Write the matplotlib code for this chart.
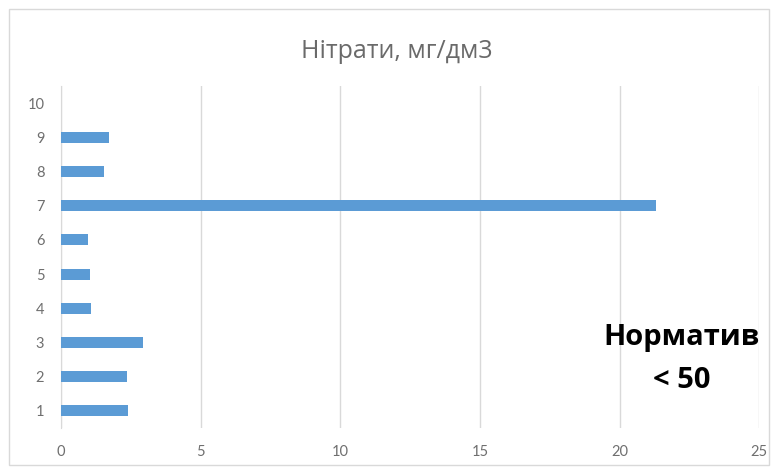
import matplotlib.pyplot as plt
from matplotlib.patches import Rectangle

categories = [1, 2, 3, 4, 5, 6, 7, 8, 9, 10]
nitrates = [2.41, 2.37, 2.93, 1.08, 1.05, 0.98, 21.3, 1.55, 1.72, 0]
x_ticks = [0, 5, 10, 15, 20, 25]

fig = plt.figure(figsize=(7.74, 4.72), dpi=100)
ax = fig.add_axes([0.0788, 0.0932, 0.902, 0.7246])

ax.barh(categories, nitrates, height=0.32, color="#5b9bd5", zorder=3)

ax.set_xlim(0, 25)
ax.set_ylim(0.5, 10.5)
ax.set_xticks(x_ticks)
ax.set_yticks(categories)
ax.grid(axis="x", color="#d9d9d9", linewidth=1, zorder=0)
for side in ["top", "right", "bottom"]:
    ax.spines[side].set_visible(False)
ax.spines["left"].set_color("#d9d9d9")
ax.tick_params(length=0, labelcolor="#6f6f6f", labelsize=10.5, pad=12)
for lab in ax.get_xticklabels() + ax.get_yticklabels():
    lab.set_family("Lato")

fig.text(0.513, 0.89, "Нітрати, мг/дм3", ha="center", va="center",
         fontsize=18, color="#6a6a6a", family="Open Sans")

# norm annotation, two centred lines
norm_kw = dict(ha="center", va="center", fontsize=21, fontweight="bold",
               family="Open Sans", color="black")
fig.text(0.881, 0.284, "Норматив", **norm_kw)
fig.text(0.881, 0.193, "< 50", **norm_kw)

# light frame around the whole chart area
fig.patches.append(Rectangle((0.011, 0.015), 0.982, 0.965, transform=fig.transFigure,
                             fill=False, edgecolor="#d9d9d9", linewidth=1))

fig.savefig("out.png", dpi=100)
